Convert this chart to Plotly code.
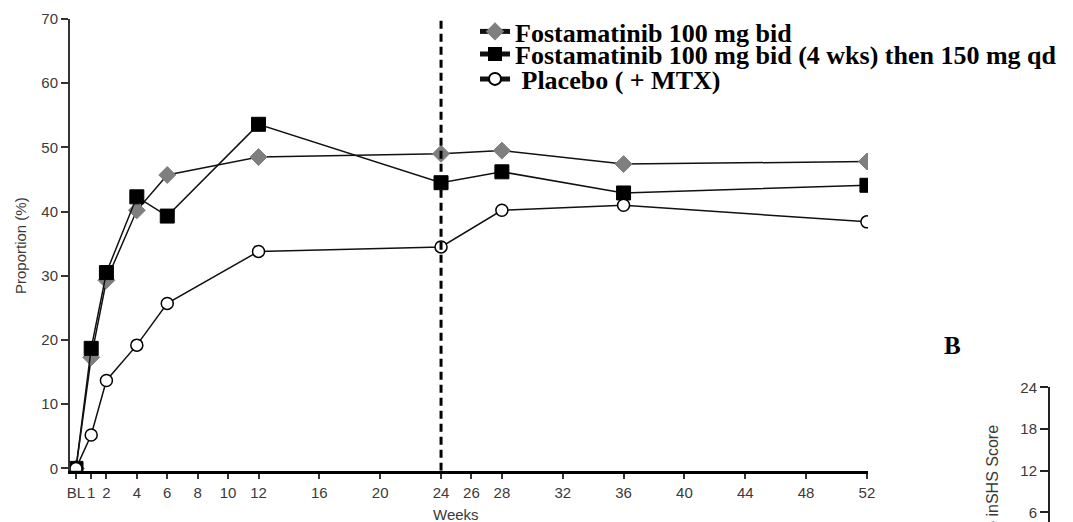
import plotly.graph_objects as go

# ---------------- data ----------------
weeks = [0, 1, 2, 4, 6, 12, 24, 28, 36, 52]
fosta_bid = [0, 17.3, 29.3, 40.2, 45.7, 48.5, 49.0, 49.5, 47.4, 47.8]
fosta_switch = [0, 18.7, 30.5, 42.3, 39.3, 53.6, 44.5, 46.2, 42.9, 44.1]
placebo = [0, 5.2, 13.7, 19.2, 25.7, 33.8, 34.5, 40.2, 41.0, 38.4]

series_names = [
    "Fostamatinib 100 mg bid",
    "Fostamatinib 100 mg bid (4 wks) then 150 mg qd",
    "\u00a0Placebo ( + MTX)",
]

x_tickvals = [0, 1, 2, 4, 6, 8, 10, 12, 16, 20, 24, 26, 28, 32, 36, 40, 44, 48, 52]
x_ticktext = ["BL"] + [str(v) for v in x_tickvals[1:]]
y_tickvals = [0, 10, 20, 30, 40, 50, 60, 70]
b_tickvals = [6, 12, 18, 24]
switch_week = 24

# the page body has an 8px margin; figure is sized to fill the rest of the window
OFF = 8
W, H = 1073 - OFF, 522 - OFF
def px(x):
    return (x - OFF) / W
def py(y):
    return 1 - (y - OFF) / H

tick_font = dict(family="Liberation Sans, Arial, sans-serif", size=15, color="#3a3a3a")
leg_font = dict(family="Liberation Serif, Times New Roman, serif", size=26, color="black", weight="bold")

fig = go.Figure()

fig.add_trace(go.Scatter(
    x=weeks, y=fosta_bid, mode="lines+markers", name=series_names[0],
    line=dict(color="#111", width=1.5),
    marker=dict(symbol="diamond", size=13, color="#7f7f7f", line=dict(color="#7f7f7f", width=1)),
    legend="legend",
))
fig.add_trace(go.Scatter(
    x=weeks, y=fosta_switch, mode="lines+markers", name=series_names[1],
    line=dict(color="#111", width=1.5),
    marker=dict(symbol="square", size=14, color="black", line=dict(color="black", width=1)),
    legend="legend2",
))
fig.add_trace(go.Scatter(
    x=weeks, y=placebo, mode="lines+markers", name=series_names[2],
    line=dict(color="#111", width=1.5),
    marker=dict(symbol="circle", size=12, color="white", line=dict(color="black", width=1.5)),
    legend="legend3",
))
# empty trace for panel B axis
fig.add_trace(go.Scatter(x=[], y=[], xaxis="x2", yaxis="y2", showlegend=False))

fig.add_shape(type="line", xref="x", yref="y", x0=switch_week, x1=switch_week,
              y0=-0.37, y1=71.4, line=dict(color="black", width=3, dash="8px,5px"))

common_leg = dict(bgcolor="rgba(0,0,0,0)", borderwidth=0, font=leg_font,
                  itemsizing="constant", xanchor="left")

fig.update_layout(
    width=W, height=H,
    margin=dict(l=0, r=0, t=0, b=0),
    paper_bgcolor="white", plot_bgcolor="white",
    xaxis=dict(domain=[px(70), px(868)], range=[-0.394, 52.07],
               tickvals=x_tickvals, ticktext=x_ticktext, tickfont=tick_font, tickangle=0,
               ticks="outside", ticklen=5, tickwidth=1.5, tickcolor="#333",
               ticklabelstandoff=1,
               showline=True, linewidth=3, linecolor="black",
               showgrid=False, zeroline=False, automargin=False),
    yaxis=dict(domain=[py(470.8), py(19)], range=[-0.374, 70],
               tickvals=y_tickvals, tickfont=tick_font,
               ticks="outside", ticklen=7, tickwidth=1.5, tickcolor="#333",
               showline=True, linewidth=2, linecolor="#333",
               showgrid=False, zeroline=False, automargin=False),
    xaxis2=dict(domain=[px(1050), 1], anchor="y2", visible=False, range=[0, 1]),
    yaxis2=dict(domain=[0, py(387.3)], range=[4.62, 24], anchor="x2",
                tickvals=b_tickvals, tickfont=tick_font,
                ticks="outside", ticklen=8, tickwidth=1.5, tickcolor="#222",
                showline=True, linewidth=2, linecolor="#222",
                showgrid=False, zeroline=False, automargin=False),
    legend=dict(x=px(475), y=1, yanchor="top", **common_leg),
    legend2=dict(x=px(475), y=py(54), yanchor="middle", **common_leg),
    legend3=dict(x=px(475), y=py(79), yanchor="middle", **common_leg),
    showlegend=True,
)

fig.add_annotation(text="Proportion (%)", x=px(20), y=py(246), xref="paper", yref="paper",
                   textangle=-90, showarrow=False, xanchor="center", yanchor="middle",
                   font=dict(family="Liberation Sans, Arial, sans-serif", size=15, color="#3a3a3a"))
fig.add_annotation(text="Weeks", x=px(456), y=py(514), xref="paper", yref="paper",
                   showarrow=False, xanchor="center", yanchor="middle",
                   font=dict(family="Liberation Sans, Arial, sans-serif", size=15, color="#3a3a3a"))
fig.add_annotation(text="<b>B</b>", x=px(952), y=py(345), xref="paper", yref="paper",
                   showarrow=False, xanchor="center", yanchor="middle",
                   font=dict(family="Liberation Serif, Times New Roman, serif", size=25, color="black"))
fig.add_annotation(text="Change inSHS Score", x=px(992), y=py(423), xref="paper", yref="paper",
                   textangle=-90, showarrow=False, xanchor="center", yanchor="top",
                   font=dict(family="Liberation Sans, Arial, sans-serif", size=16, color="#3a3a3a"))

fig.write_html("out.html")
